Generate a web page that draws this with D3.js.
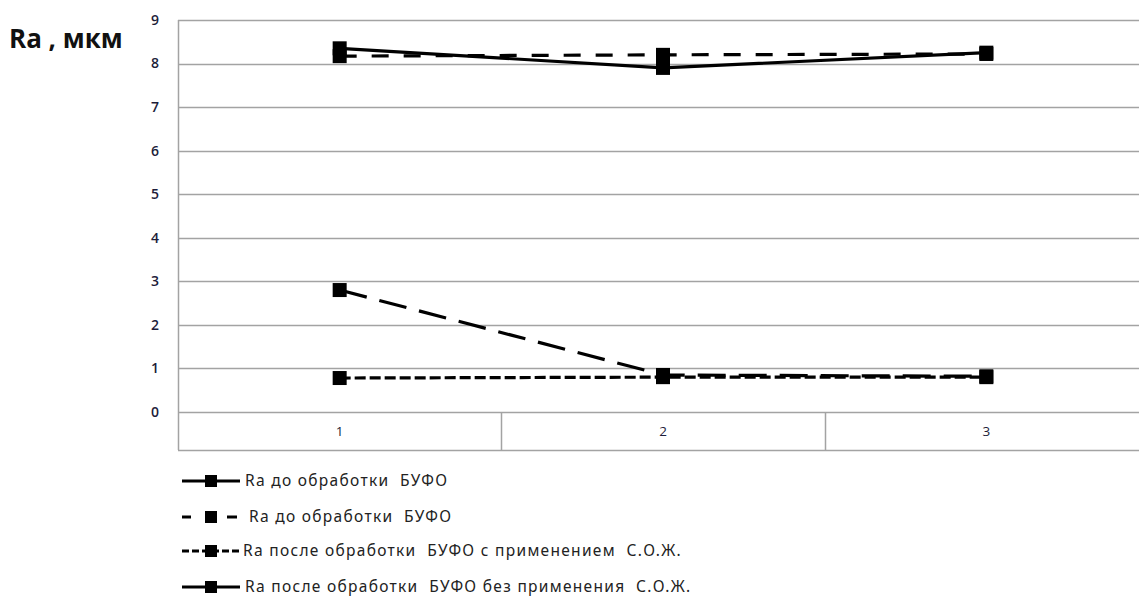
<!DOCTYPE html>
<html>
<head>
<meta charset="utf-8">
<script src="https://cdn.jsdelivr.net/npm/d3@7"></script>
<style>
  html, body { margin: 0; padding: 0; background: #fff; }
  svg { display: block; }
  text { white-space: pre; }
</style>
</head>
<body>
<svg id="chart" width="1139" height="597"></svg>
<script>
// Measurement points along the category axis
const categories = ["1", "2", "3"];
const yTicks = [0, 1, 2, 3, 4, 5, 6, 7, 8, 9];

// Ra values per series (мкм)
const raBefore1 = [8.35, 7.9, 8.25];
const raBefore2 = [2.8, 0.85, 0.82];
const raAfterCoolant = [0.78, 0.8, 0.8];
const raAfterNoCoolant = [8.17, 8.2, 8.22];

const seriesNames = [
  "Ra до обработки  БУФО",
  "Ra до обработки  БУФО",
  "Ra после обработки  БУФО с применением  С.О.Ж.",
  "Ra после обработки  БУФО без применения  С.О.Ж."
];

const series = [
  { name: seriesNames[0], values: raBefore1, dash: null, legendDash: null },
  { name: seriesNames[1], values: raBefore2, dash: "28,13", legendDash: "8,11" },
  { name: seriesNames[2], values: raAfterCoolant, dash: "11,4", legendDash: "7,3" },
  { name: seriesNames[3], values: raAfterNoCoolant, dash: "17,15", legendDash: null }
];

const svg = d3.select("#chart");
const plot = { left: 178, right: 1148, top: 20, bottom: 412, axisBottom: 450 };

const x = d3.scaleBand().domain(categories).range([plot.left, plot.right]);
const y = d3.scaleLinear().domain([0, 9]).range([plot.bottom, plot.top]);

const grid = "#a3a3a3";
const textColor = "#1d1d3a";

// Horizontal gridlines
svg.append("g")
  .selectAll("line")
  .data(yTicks)
  .join("line")
  .attr("x1", plot.left).attr("x2", plot.right)
  .attr("y1", d => Math.round(y(d)) + 0.5).attr("y2", d => Math.round(y(d)) + 0.5)
  .attr("stroke", grid).attr("stroke-width", 1.5);

// Left border of the plot and the category table
svg.append("line")
  .attr("x1", plot.left + 0.5).attr("x2", plot.left + 0.5)
  .attr("y1", plot.top).attr("y2", plot.axisBottom)
  .attr("stroke", grid).attr("stroke-width", 1.5);

// Category table: bottom line and dividers
svg.append("line")
  .attr("x1", plot.left).attr("x2", plot.right)
  .attr("y1", plot.axisBottom + 0.5).attr("y2", plot.axisBottom + 0.5)
  .attr("stroke", grid).attr("stroke-width", 1.5);
svg.append("g")
  .selectAll("line")
  .data(categories.slice(1))
  .join("line")
  .attr("x1", d => Math.round(x(d)) + 0.5).attr("x2", d => Math.round(x(d)) + 0.5)
  .attr("y1", plot.bottom).attr("y2", plot.axisBottom)
  .attr("stroke", grid).attr("stroke-width", 1.5);

// Category labels
svg.append("g")
  .selectAll("text")
  .data(categories)
  .join("text")
  .attr("x", d => x(d) + x.bandwidth() / 2)
  .attr("y", (plot.bottom + plot.axisBottom) / 2)
  .attr("dy", "0.35em")
  .attr("text-anchor", "middle")
  .attr("font-family", "'Open Sans', sans-serif")
  .attr("font-size", 13.5)
  .attr("fill", textColor)
  .text(d => d);

// Y tick labels
svg.append("g")
  .selectAll("text")
  .data(yTicks)
  .join("text")
  .attr("x", 159)
  .attr("y", d => y(d))
  .attr("dy", "0.35em")
  .attr("text-anchor", "end")
  .attr("font-family", "'Open Sans', sans-serif")
  .attr("font-weight", 600)
  .attr("font-size", 14)
  .attr("fill", textColor)
  .text(d => d);

// Axis title
svg.append("text")
  .attr("x", 9).attr("y", 48)
  .attr("font-family", "'Open Sans', sans-serif")
  .attr("font-weight", 700)
  .attr("font-size", 26)
  .attr("fill", "#111")
  .text("Ra , мкм");

// Series lines and markers
const line = d3.line()
  .x((d, i) => x(categories[i]) + x.bandwidth() / 2)
  .y(d => y(d));

const ms = 14;
series.forEach(s => {
  svg.append("path")
    .attr("d", line(s.values))
    .attr("fill", "none")
    .attr("stroke", "#000")
    .attr("stroke-width", 3.2)
    .attr("stroke-dasharray", s.dash);
  svg.append("g")
    .selectAll("rect")
    .data(s.values)
    .join("rect")
    .attr("x", (d, i) => x(categories[i]) + x.bandwidth() / 2 - ms / 2)
    .attr("y", d => y(d) - ms / 2)
    .attr("width", ms).attr("height", ms)
    .attr("fill", "#000");
});

// Legend
const legendRows = [481, 517, 551, 587];
const legend = svg.append("g");
series.forEach((s, i) => {
  const cy = legendRows[i];
  const g = legend.append("g");
  if (i === 1) {
    // long-dash symbol: dash, marker, dash
    g.append("line").attr("x1", 182).attr("x2", 191).attr("y1", cy).attr("y2", cy)
      .attr("stroke", "#000").attr("stroke-width", 3);
    g.append("line").attr("x1", 227).attr("x2", 237).attr("y1", cy).attr("y2", cy)
      .attr("stroke", "#000").attr("stroke-width", 3);
    g.append("rect").attr("x", 205).attr("y", cy - 6).attr("width", 12).attr("height", 12).attr("fill", "#000");
  } else {
    g.append("line").attr("x1", 182).attr("x2", 240).attr("y1", cy).attr("y2", cy)
      .attr("stroke", "#000").attr("stroke-width", 3)
      .attr("stroke-dasharray", s.legendDash);
    g.append("rect").attr("x", 205).attr("y", cy - 6).attr("width", 12).attr("height", 12).attr("fill", "#000");
  }
  g.append("text")
    .attr("x", i === 1 ? 249 : (i === 2 ? 243 : 245))
    .attr("y", cy)
    .attr("dy", "0.35em")
    .attr("font-family", "'Noto Sans', sans-serif")
    .attr("font-size", 15.5)
    .attr("letter-spacing", 1.3)
    .attr("fill", "#222")
    .text(s.name);
});
</script>
</body>
</html>
